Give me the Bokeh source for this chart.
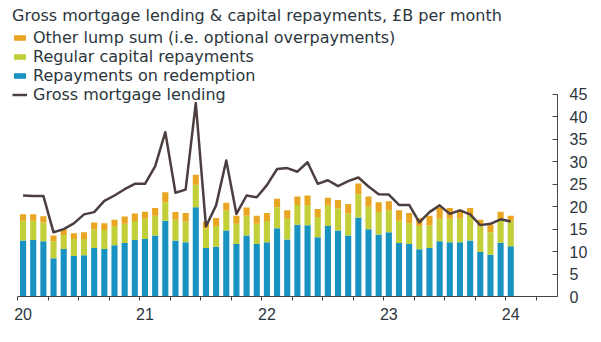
from bokeh.plotting import figure
from bokeh.models import ColumnDataSource, Range1d, FixedTicker, Legend, LegendItem
from bokeh.embed import file_html
from bokeh.resources import INLINE

# ---------------- data ----------------
months = [f"{y}-{m:02d}" for y in range(2020, 2024) for m in range(1, 13)] + ["2024-01"]

redemption = [12.5, 12.6, 12.3, 8.5, 10.6, 9.0, 9.2, 10.8, 10.6, 11.4, 11.9, 12.6,
              12.8, 13.6, 16.9, 12.5, 12.1, 19.9, 10.8, 11.1, 14.7, 11.7, 13.6, 11.7,
              12.1, 15.2, 12.7, 16.0, 15.9, 13.2, 15.7, 14.7, 13.6, 17.6, 15.0, 13.8,
              14.3, 11.9, 11.7, 10.5, 10.8, 12.3, 12.1, 12.1, 12.5, 9.9, 9.3, 12.0,
              11.2]
regular = [4.4, 4.3, 4.2, 3.8, 3.1, 3.8, 3.6, 4.1, 4.2, 4.3, 4.3, 4.2,
           4.5, 4.4, 4.1, 4.6, 4.6, 5.0, 4.4, 4.6, 4.5, 4.5, 4.4, 4.5,
           4.7, 4.7, 4.6, 4.4, 4.5, 4.5, 4.6, 4.9, 4.9, 5.2, 5.0, 5.0,
           4.9, 5.0, 4.6, 5.2, 5.0, 5.0, 5.2, 5.2, 5.5, 5.7, 5.0, 5.4,
           5.7]
lump = [1.4, 1.4, 1.4, 1.3, 1.2, 1.3, 1.5, 1.6, 1.5, 1.4, 1.6, 1.7,
        1.6, 1.7, 2.2, 1.7, 1.9, 2.2, 1.5, 1.8, 1.7, 1.8, 1.8, 1.8,
        1.8, 1.9, 1.9, 1.9, 2.1, 1.8, 1.7, 1.9, 2.1, 2.4, 2.3, 2.2,
        2.0, 2.3, 2.3, 1.8, 2.2, 2.5, 2.4, 2.0, 1.7, 1.5, 1.7, 1.5,
        1.1]
lending = [22.5, 22.4, 22.4, 14.3, 15.0, 16.3, 18.3, 18.8, 21.3, 22.5, 23.9, 25.1,
           25.1, 29.0, 36.6, 23.1, 23.8, 43.1, 15.6, 20.3, 30.3, 18.4, 22.5, 22.1,
           24.8, 28.4, 28.6, 27.8, 29.9, 25.1, 25.9, 24.6, 25.7, 26.5, 24.5, 22.8,
           22.7, 20.4, 20.4, 16.5, 18.8, 20.3, 18.4, 19.2, 18.3, 15.9, 16.2, 17.2,
           16.7]

year_labels = ["20", "21", "22", "23", "24"]
y_ticks = [0, 5, 10, 15, 20, 25, 30, 35, 40, 45]

title_text = "Gross mortgage lending & capital repayments, \u00a3B per month"
series_names = ["Other lump sum (i.e. optional overpayments)",
                "Regular capital repayments",
                "Repayments on redemption",
                "Gross mortgage lending"]

# ---------------- styling ----------------
BLUE = "#1792c1"
GREEN = "#c3cf38"
ORANGE = "#e9a623"
LINE = "#4d3e3f"
TEXT = "#2b363d"
AXIS = "#444444"
FONT = "DejaVu Sans"
NUMFONT = "Liberation Sans"

x = [i + 0.5 for i in range(len(months))]          # month centres (month index units)
quarter_ticks = list(range(0, len(months) + 5, 3))   # quarter boundaries
year_pos = [months.index(f"20{y}-01") + 0.5 for y in year_labels]
x_start = -1.13
x_end = 53.1

src = ColumnDataSource(dict(x=x, month=months, redemption=redemption,
                            regular=regular, lump=lump, lending=lending))

p = figure(width=601, height=342, x_range=Range1d(x_start, x_end), y_range=Range1d(0, 65.94),
           y_axis_location="right", toolbar_location=None, output_backend="svg",
           min_border_left=6, min_border_right=44, min_border_top=0, min_border_bottom=46,
           title=None, outline_line_color=None,
           background_fill_color="white", border_fill_color="white")
p.grid.visible = False

bars = p.vbar_stack(["redemption", "regular", "lump"], x="x", width=0.6,
                    color=[BLUE, GREEN, ORANGE], line_color=None, source=src)
ln = p.line("x", "lending", source=src, line_width=2.5, color=LINE, line_join="round")

# x axis: quarter ticks as minor ticks, year labels at January centres
xa = p.xaxis[0]
xa.ticker = FixedTicker(ticks=year_pos, minor_ticks=quarter_ticks)
xa.major_label_overrides = {pos: lab for pos, lab in zip(year_pos, year_labels)}
xa.major_tick_in = 0
xa.major_tick_out = 0
xa.minor_tick_in = 0
xa.minor_tick_out = 4
xa.minor_tick_line_color = AXIS
xa.axis_line_color = AXIS
xa.bounds = (0, x_end)
xa.major_label_standoff = 7
xa.major_label_text_font = NUMFONT
xa.major_label_text_font_size = "16px"
xa.major_label_text_color = TEXT

ya = p.yaxis[0]
ya.ticker = FixedTicker(ticks=y_ticks)
ya.bounds = (0, 45)
ya.major_tick_in = 5
ya.major_tick_out = 0
ya.minor_tick_in = 0
ya.minor_tick_out = 0
ya.major_tick_line_color = AXIS
ya.axis_line_color = AXIS
ya.major_label_standoff = 12
ya.major_label_text_font = NUMFONT
ya.major_label_text_font_size = "16px"
ya.major_label_text_color = TEXT

legend = Legend(items=[LegendItem(label=series_names[0], renderers=[bars[2]]),
                       LegendItem(label=series_names[1], renderers=[bars[1]]),
                       LegendItem(label=series_names[2], renderers=[bars[0]]),
                       LegendItem(label=series_names[3], renderers=[ln])],
                location="top_left", title=title_text,
                title_text_font=FONT, title_text_font_size="16px", title_text_color=TEXT,
                title_text_font_style="normal", title_standoff=3,
                label_text_font=FONT, label_text_font_size="16px", label_text_color=TEXT,
                label_text_line_height=0.9,
                glyph_width=15, glyph_height=7, label_standoff=6, label_height=16,
                spacing=0, padding=0, margin=6,
                background_fill_alpha=0, border_line_alpha=0)
p.add_layout(legend)

open("out.html", "w").write(file_html(p, INLINE))
